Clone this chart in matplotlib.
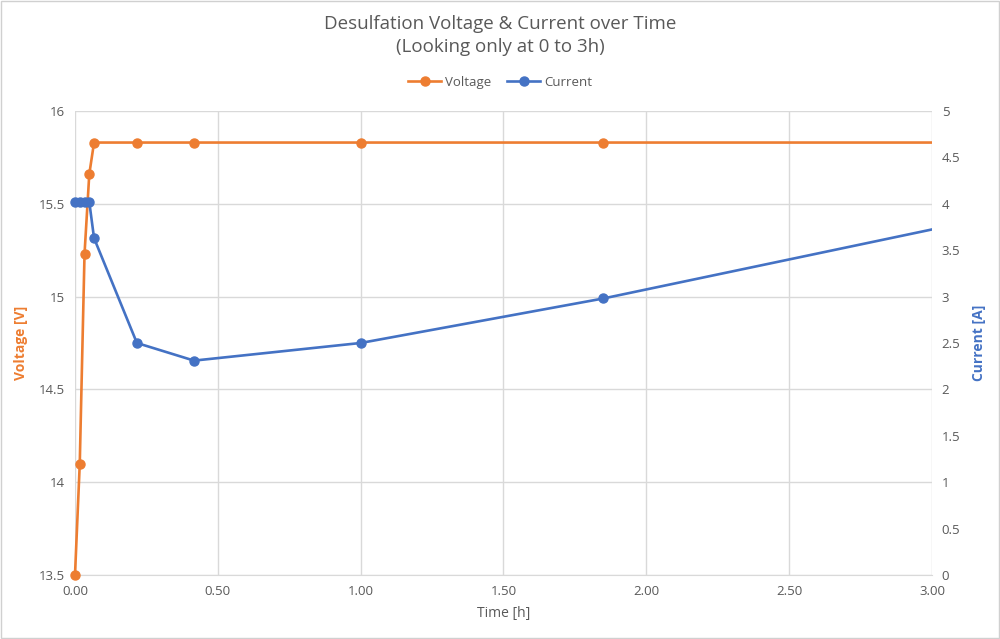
import matplotlib
matplotlib.use("Agg")
import matplotlib.pyplot as plt
from matplotlib.ticker import FuncFormatter, MultipleLocator
from matplotlib.patches import Rectangle

plt.rcParams["font.family"] = ["Open Sans", "DejaVu Sans"]

# time in hours (minutes / 60)
time_h = [0.0, 1 / 60, 2 / 60, 3 / 60, 4 / 60, 13 / 60, 25 / 60, 1.0, 111 / 60, 4.0]
voltage = [13.5, 14.1, 15.23, 15.66, 15.83, 15.83, 15.83, 15.83, 15.83, 15.83]
current = [4.02, 4.02, 4.02, 4.02, 3.63, 2.50, 2.31, 2.50, 2.98, 4.37]

ORANGE = "#ED7D31"
BLUE = "#4472C4"
GRID = "#D9D9D9"
TEXT = "#595959"


def fmt_num(v, _pos=None):
    return f"{v:g}"


fig = plt.figure(figsize=(10.0, 6.39), dpi=100)
fig.patches.append(Rectangle((0.001, 0.001), 0.998, 0.998, transform=fig.transFigure,
                             fill=False, edgecolor="#D0D0D0", linewidth=1.0))
ax = fig.add_axes([0.075, 0.1002, 0.857, 0.7261])
ax2 = ax.twinx()

ax.set_xlim(0, 3)
ax.set_ylim(13.5, 16)
ax2.set_ylim(0, 5)

ax.xaxis.set_major_locator(MultipleLocator(0.5))
ax.yaxis.set_major_locator(MultipleLocator(0.5))
ax2.yaxis.set_major_locator(MultipleLocator(0.5))
ax.xaxis.set_major_formatter(FuncFormatter(lambda v, p: f"{v:.2f}"))
ax.yaxis.set_major_formatter(FuncFormatter(fmt_num))
ax2.yaxis.set_major_formatter(FuncFormatter(fmt_num))

ax.grid(True, color=GRID, linewidth=1.0)
ax.set_axisbelow(True)
for a in (ax, ax2):
    for side in ("top", "left", "right"):
        a.spines[side].set_visible(False)
    a.spines["bottom"].set_color(GRID)
    a.tick_params(length=0, labelsize=9.5, colors=TEXT, pad=7)
ax2.spines["bottom"].set_visible(False)

lv, = ax.plot(time_h, voltage, color=ORANGE, lw=1.9, marker="o", ms=6.5,
              label="Voltage", zorder=3)
lc, = ax2.plot(time_h, current, color=BLUE, lw=1.9, marker="o", ms=6.5,
               label="Current", zorder=3)
# clip only at the right edge (data continues past 3 h), keep markers at 0 whole
for line, a in ((lv, ax), (lc, ax2)):
    line.set_clip_on(True)
    line.set_clip_path(Rectangle((-0.03, -1), 1.03, 3, transform=a.transAxes))

ax.set_xlabel("Time [h]", fontsize=10, color=TEXT, labelpad=6)
ax.set_ylabel("Voltage [V]", fontsize=10, color=ORANGE, fontweight="bold", labelpad=8)
ax2.set_ylabel("Current [A]", fontsize=10, color=BLUE, fontweight="bold", labelpad=8)

fig.text(0.5, 0.963, "Desulfation Voltage & Current over Time", ha="center", va="center",
         fontsize=13.5, color=TEXT)
fig.text(0.5, 0.927, "(Looking only at 0 to 3h)", ha="center", va="center",
         fontsize=13.5, color=TEXT)

fig.legend(handles=[lv, lc], loc="center", bbox_to_anchor=(0.5, 0.871), ncol=2,
           frameon=False, fontsize=9.5, labelcolor=TEXT, handlelength=2.5,
           columnspacing=1.2, handletextpad=0.3)

fig.savefig("out.png", dpi=100, facecolor="white")
